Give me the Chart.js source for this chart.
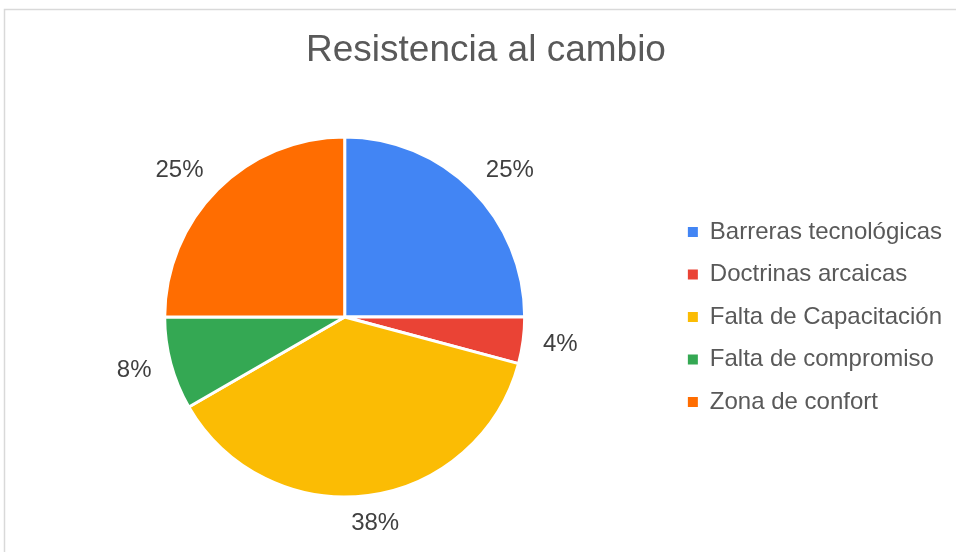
<!DOCTYPE html>
<html>
<head>
<meta charset="utf-8">
<script src="https://cdn.jsdelivr.net/npm/chart.js@4.4.1/dist/chart.umd.min.js"></script>
<style>
  html, body { margin: 0; padding: 0; background: #fff; }
  #wrap { width: 956px; height: 552px; position: relative; }
</style>
</head>
<body>
<div id="wrap"><canvas id="pieChart" width="956" height="552"></canvas></div>
<script>
// Resistencia al cambio – pie chart

const CATEGORIES = [
    "Barreras tecnológicas",
    "Doctrinas arcaicas",
    "Falta de Capacitación",
    "Falta de compromiso",
    "Zona de confort"
];
const VALUES = [6, 1, 9, 2, 6];
const COLORS = ["#4285f4", "#ea4335", "#fbbc04", "#34a853", "#ff6d01"];
const TITLE = "Resistencia al cambio";

const FONT = "'Liberation Sans', Arial, sans-serif";

// light grey frame like the spreadsheet chart box
const framePlugin = {
    id: "frame",
    beforeDraw(chart) {
        const { ctx } = chart;
        ctx.save();
        ctx.strokeStyle = "#d9d9d9";
        ctx.lineWidth = 1.5;
        ctx.strokeRect(4.5, 9.5, 1000, 600);
        ctx.restore();
    }
};

// percentage labels outside each slice
const outsideLabels = {
    id: "outsideLabels",
    afterDatasetsDraw(chart) {
        const { ctx } = chart;
        const meta = chart.getDatasetMeta(0);
        const data = chart.data.datasets[0].data;
        const total = data.reduce((a, b) => a + b, 0);
        ctx.save();
        ctx.font = "24px " + FONT;
        ctx.fillStyle = "#404040";
        ctx.textAlign = "center";
        ctx.textBaseline = "middle";
        meta.data.forEach((arc, i) => {
            const mid = (arc.startAngle + arc.endAngle) / 2;
            const r = arc.outerRadius + 20;
            const cx = Math.cos(mid), cy = Math.sin(mid);
            const txt = Math.round(data[i] / total * 100) + "%";
            const w = ctx.measureText(txt).width;
            const x = arc.x + r * cx + (w / 2) * Math.sign(cx) * Math.min(1, Math.abs(cx) * 1.4);
            const y = arc.y + r * cy + 8 * cy;
            ctx.fillText(txt, x, y);
        });
        ctx.restore();
    }
};

const ctx = document.getElementById("pieChart");

new Chart(ctx, {
    type: "pie",
    data: {
        labels: CATEGORIES,
        datasets: [{
            data: VALUES,
            backgroundColor: COLORS,
            borderColor: "#ffffff",
            borderWidth: 3,
            radius: 180
        }]
    },
    options: {
        responsive: false,
        animation: false,
        layout: { padding: { top: 0, bottom: 18, left: 20, right: 4 } },
        plugins: {
            title: {
                display: true,
                text: TITLE,
                color: "#595959",
                font: { size: 37, family: FONT, weight: "normal" },
                padding: { top: 29, bottom: 26.6 }
            },
            legend: {
                position: "right",
                fullSize: false,
                labels: {
                    color: "#595959",
                    font: { size: 24, family: FONT },
                    boxWidth: 10,
                    boxHeight: 10,
                    padding: 18.5,
                    generateLabels: (chart) =>
                        Chart.overrides.pie.plugins.legend.labels.generateLabels(chart)
                            .map(l => ({ ...l, lineWidth: 0 }))
                }
            },
            tooltip: { enabled: false }
        }
    },
    plugins: [framePlugin, outsideLabels]
});
</script>
</body>
</html>
